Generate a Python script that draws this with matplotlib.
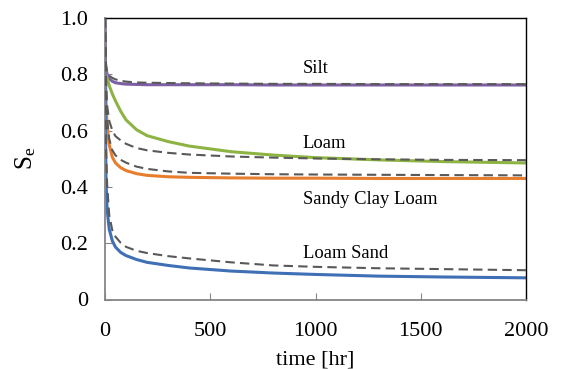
import matplotlib
matplotlib.use("Agg")
import matplotlib.pyplot as plt

plt.rcParams['font.family'] = ['Liberation Serif', 'DejaVu Serif']
plt.rcParams['mathtext.fontset'] = 'custom'
plt.rcParams['mathtext.rm'] = 'Liberation Serif'

time_hr = [0, 2, 5, 10, 20, 35, 50, 75, 100, 150, 200, 300, 400, 600, 800, 1000, 1300, 1600, 2000]

silt_solid = [0.86, 0.84, 0.82, 0.80, 0.785, 0.775, 0.770, 0.767, 0.765, 0.764, 0.763, 0.763, 0.763, 0.763, 0.762, 0.762, 0.762, 0.762, 0.762]
silt_dash = [1.0, 0.88, 0.83, 0.81, 0.795, 0.787, 0.782, 0.777, 0.774, 0.771, 0.770, 0.769, 0.768, 0.767, 0.766, 0.766, 0.765, 0.765, 0.765]

loam_solid = [0.83, 0.815, 0.80, 0.785, 0.76, 0.73, 0.705, 0.668, 0.638, 0.603, 0.582, 0.561, 0.545, 0.525, 0.513, 0.504, 0.496, 0.490, 0.485]
loam_dash = [1.0, 0.88, 0.78, 0.69, 0.635, 0.60, 0.58, 0.565, 0.553, 0.538, 0.530, 0.521, 0.515, 0.508, 0.504, 0.501, 0.498, 0.496, 0.495]

scl_solid = [1.0, 0.82, 0.70, 0.62, 0.55, 0.505, 0.485, 0.468, 0.458, 0.447, 0.441, 0.436, 0.434, 0.432, 0.431, 0.431, 0.430, 0.430, 0.430]
scl_dash = [1.0, 0.85, 0.73, 0.64, 0.57, 0.53, 0.512, 0.496, 0.486, 0.472, 0.464, 0.455, 0.450, 0.447, 0.445, 0.444, 0.443, 0.442, 0.441]

ls_solid = [1.0, 0.60, 0.42, 0.32, 0.25, 0.208, 0.186, 0.167, 0.156, 0.142, 0.132, 0.121, 0.112, 0.101, 0.094, 0.089, 0.083, 0.080, 0.077]
ls_dash = [1.0, 0.75, 0.55, 0.41, 0.30, 0.245, 0.223, 0.201, 0.187, 0.173, 0.165, 0.154, 0.146, 0.132, 0.121, 0.116, 0.111, 0.108, 0.104]

labels = ['Silt', 'Loam', 'Sandy Clay Loam', 'Loam Sand']
label_x = [940, 940, 940, 940]
label_y = [0.82, 0.553, 0.355, 0.163]

x_ticks = [0, 500, 1000, 1500, 2000]
y_ticks = [0, 0.2, 0.4, 0.6, 0.8, 1.0]
y_ticklabels = ['0', '0.2', '0.4', '0.6', '0.8', '1.0']

fig = plt.figure(figsize=(5.61, 3.69), dpi=100)
ax = fig.add_axes([105/561, 1-299.5/369, 421/561, 281.5/369])

solids = [(silt_solid, '#7E5FA5'), (loam_solid, '#8DB443'), (scl_solid, '#E87D2D'), (ls_solid, '#3F6FB5')]
dashes = [silt_dash, loam_dash, scl_dash, ls_dash]
for vals, c in solids:
    ax.plot(time_hr, vals, color=c, lw=2.2, solid_capstyle='butt', solid_joinstyle='round', zorder=2)
for vals in dashes:
    ax.plot(time_hr, vals, color='#595959', lw=1.5, dashes=(4.5, 2.5), zorder=3)

for s, x, y in zip(labels, label_x, label_y):
    ax.text(x, y, s, fontsize=13.4, va='center', ha='left')

ax.set_xlim(0, 2000)
ax.set_ylim(0, 1.0)
ax.set_xticks(x_ticks)
ax.set_yticks(y_ticks)
ax.set_yticklabels(y_ticklabels)
ax.tick_params(direction='in', length=5, color='#868686', labelsize=16)
ax.tick_params(axis='x', pad=16)
ax.tick_params(axis='y', pad=12)
for side in ['left', 'bottom']:
    ax.spines[side].set_color('#868686')
    ax.spines[side].set_linewidth(1.3)
for side in ['top', 'right']:
    ax.spines[side].set_color('black')
    ax.spines[side].set_linewidth(1.0)

ax.set_xlabel('time [hr]', fontsize=16, labelpad=7)
ax.set_ylabel(r'$\mathregular{S_e}$', fontsize=18, labelpad=16)

fig.savefig('out.png', dpi=100)
